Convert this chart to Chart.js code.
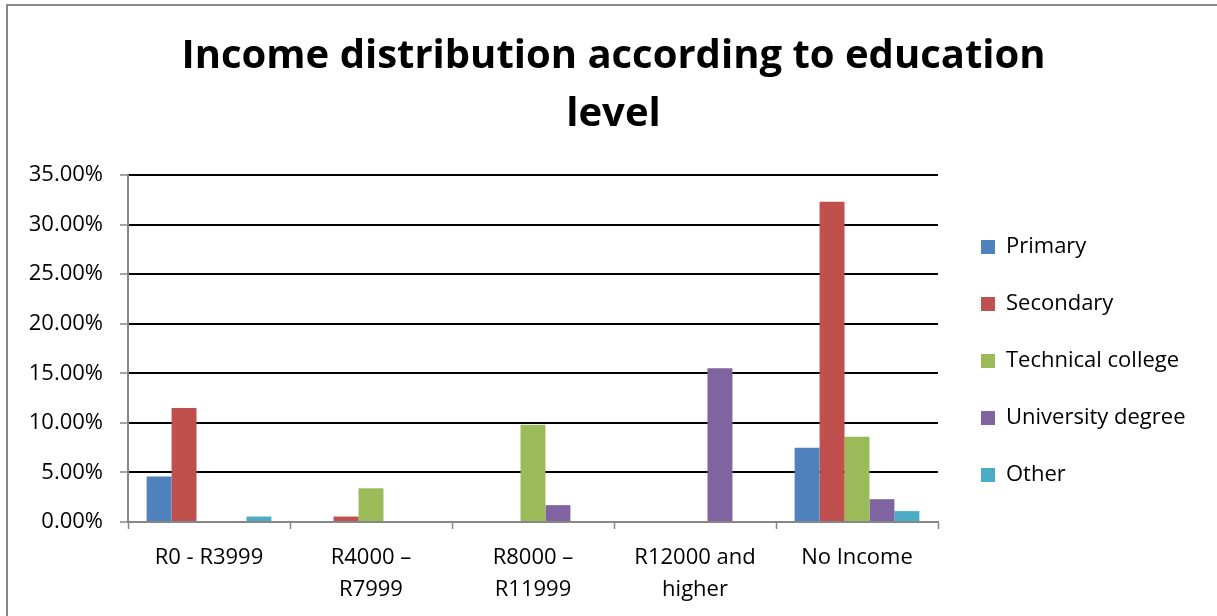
<!DOCTYPE html>
<html>
<head>
<meta charset="utf-8">
<title>Income distribution according to education level</title>
<script src="https://cdn.jsdelivr.net/npm/chart.js@4.4.0/dist/chart.umd.min.js"></script>
<style>
  html, body { margin: 0; padding: 0; background: #fff; }
  #frame {
    position: absolute; left: 6px; top: 4px; width: 1220px; height: 620px;
    border-left: 2px solid #888; border-top: 2px solid #888;
  }
  #wrap { position: absolute; left: 0; top: 0; width: 1217px; height: 616px; }
</style>
</head>
<body>
<div id="frame"></div>
<div id="wrap"><canvas id="chart"></canvas></div>
<script>
// categorias y series (valores en %)
const categorias = [
  'R0 - R3999',
  ['R4000 \u2013', 'R7999'],
  ['R8000 \u2013', 'R11999'],
  ['R12000 and', 'higher'],
  'No Income'
];
const primary    = [4.6,  null, null, null, 7.5];
const secondary  = [11.5, 0.55, null, null, 32.3];
const technical  = [null, 3.4,  9.8,  null, 8.6];
const university = [null, null, 1.7,  15.5, 2.3];
const other      = [0.55, null, null, null, 1.1];

const yTicks = { min: 0, max: 35, step: 5 };

const GRIS = '#868686';
const FUENTE = "'Open Sans', sans-serif";

// leyenda: ancho fijo y posición
const ajusteLeyenda = {
  id: 'ajusteLeyenda',
  beforeInit(chart) {
    const fit = chart.legend.fit;
    chart.legend.fit = function () {
      fit.call(this);
      this.width = 279;
    };
  },
  afterLayout(chart) {
    const lg = chart.legend;
    lg.left += 8; lg.right += 8;
    lg.top += 53; lg.bottom += 53;
    const t = chart.titleBlock;
    t.left += 5; t.right += 5;
  }
};

const serie = (label, data, color) => ({
  label, data,
  backgroundColor: color,
  borderWidth: 0,
  categoryPercentage: 0.77,
  barPercentage: 1.0
});

new Chart(document.getElementById('chart'), {
  type: 'bar',
  data: {
    labels: categorias,
    datasets: [
      serie('Primary', primary, '#4F81BD'),
      serie('Secondary', secondary, '#C0504D'),
      serie('Technical college', technical, '#9BBB59'),
      serie('University degree', university, '#8064A2'),
      serie('Other', other, '#4BACC6'),
    ]
  },
  options: {
    responsive: true,
    maintainAspectRatio: false,
    animation: false,
    layout: { padding: 0 },
    plugins: {
      title: {
        display: true,
        text: ['Income distribution according to education', 'level'],
        color: '#000',
        font: { family: FUENTE, size: 40, weight: 'bold', lineHeight: 1.45 },
        padding: { top: 28, bottom: 31 }
      },
      legend: {
        position: 'right',
        labels: {
          boxWidth: 14, boxHeight: 14, padding: 35,
          color: '#000',
          font: { family: FUENTE, size: 22 }
        }
      },
      tooltip: { enabled: true }
    },
    scales: {
      x: {
        afterFit(scale) { scale.height = 94; },
        grid: {
          display: true, offset: true, drawOnChartArea: false,
          tickLength: 7, tickColor: GRIS, tickWidth: 1.5
        },
        border: { color: GRIS, width: 2 },
        ticks: {
          color: '#000', padding: 13, maxRotation: 0, autoSkip: false,
          font: { family: FUENTE, size: 22, lineHeight: 1.45 }
        }
      },
      y: {
        min: yTicks.min, max: yTicks.max,
        afterFit(scale) { scale.width = 128; },
        grid: {
          color: ctx => ctx.tick && ctx.tick.value === 0 ? GRIS : '#000',
          lineWidth: 2,
          tickLength: 8, tickColor: GRIS, tickWidth: 1.5
        },
        border: { color: GRIS, width: 2 },
        ticks: {
          stepSize: yTicks.step, color: '#000', padding: 17,
          font: { family: FUENTE, size: 22 },
          callback: v => v.toFixed(2) + '%'
        }
      }
    }
  },
  plugins: [ajusteLeyenda]
});
</script>
</body>
</html>
